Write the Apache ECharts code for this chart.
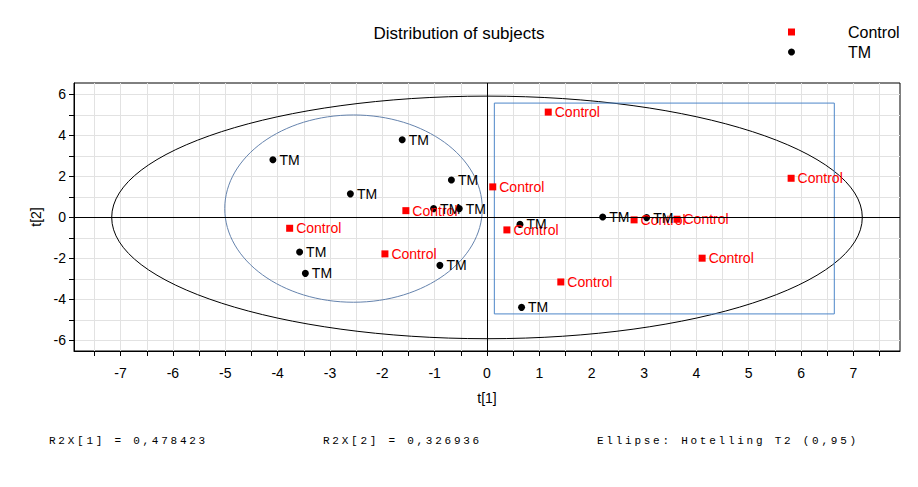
<!DOCTYPE html>
<html lang="en">
<head>
<meta charset="UTF-8">
<title>Distribution of subjects</title>
<script src="https://cdn.jsdelivr.net/npm/echarts@6/dist/echarts.min.js"></script>
<style>
  html, body { margin: 0; padding: 0; background: #fff; }
  #main { width: 918px; height: 487px; }
  /* the footer lines are typewriter style, widely spaced */
  #main text[style*="Mono"] { letter-spacing: 2.75px; }
</style>
</head>
<body>
<div id="main"></div>
<script type="text/javascript">
// scores t[1], t[2]
var controlX = [1.17, 0.11, -1.55, 0.38, -3.77, -1.95, 1.41, 5.81, 2.81, 3.63, 4.11];
var controlY = [5.14, 1.49, 0.33, -0.61, -0.53, -1.78, -3.15, 1.91, -0.12, -0.09, -1.99];
var tmX = [-4.09, -1.62, -2.61, -0.68, -1.02, -0.53, 0.63, 2.21, 3.05, -3.58, -3.47, -0.90, 0.66];
var tmY = [2.81, 3.79, 1.15, 1.83, 0.43, 0.43, -0.34, 0.02, -0.01, -1.69, -2.73, -2.34, -4.39];

// [cx, cy, rx, ry]
var hotelling = [0, 0, 7.17, 5.92];
var groupEllipse = [-2.55, 0.43, 2.46, 4.57];
// [x0, y0, x1, y1]
var groupBox = [0.14, -4.71, 6.635, 5.58];

var xMin = -7.89, xMax = 7.89;
var yMin = -6.52, yMax = 6.56;
var xTicks = [-7.5, -7, -6.5, -6, -5.5, -5, -4.5, -4, -3.5, -3, -2.5, -2, -1.5, -1, -0.5, 0,
              0.5, 1, 1.5, 2, 2.5, 3, 3.5, 4, 4.5, 5, 5.5, 6, 6.5, 7, 7.5];
var xLabels = [-7, -6, -5, -4, -3, -2, -1, 0, 1, 2, 3, 4, 5, 6, 7];
var yTicks = [-6, -5, -4, -3, -2, -1, 0, 1, 2, 3, 4, 5, 6];
var yLabels = [-6, -4, -2, 0, 2, 4, 6];

var footer = ['R2X[1] = 0,478423', 'R2X[2] = 0,326936', 'Ellipse: Hotelling T2 (0,95)'];

var font = 'Liberation Sans';
var chart = echarts.init(document.getElementById('main'), null, { renderer: 'svg' });

function ellipseItem(color) {
  return function (params, api) {
    var c = api.coord([api.value(0), api.value(1)]);
    var s = api.size([api.value(2), api.value(3)]);
    return {
      type: 'ellipse',
      shape: { cx: c[0], cy: c[1], rx: s[0], ry: s[1] },
      style: { fill: 'none', stroke: color, lineWidth: 1 }
    };
  };
}

var option = {
  animation: false,
  title: {
    text: 'Distribution of subjects',
    left: 'center',
    top: 20,
    textStyle: { fontFamily: font, fontSize: 17, fontWeight: 'normal', color: '#000' }
  },
  legend: {
    orient: 'vertical',
    left: 783,
    top: 19,
    itemWidth: 7,
    itemHeight: 7,
    itemGap: 4,
    data: [{ name: 'Control', icon: 'rect' }, { name: 'TM', icon: 'circle' }],
    textStyle: { fontFamily: font, fontSize: 16, color: '#000', padding: [0, 0, 0, 48] }
  },
  grid: {
    left: 74, top: 83, right: 18, bottom: 136,
    show: true, borderColor: '#000', borderWidth: 1
  },
  xAxis: {
    type: 'value',
    min: xMin,
    max: xMax,
    name: 't[1]',
    nameLocation: 'middle',
    nameGap: 40,
    nameTextStyle: { fontFamily: font, fontSize: 14, color: '#000' },
    axisLine: { onZero: false, lineStyle: { color: '#000' } },
    axisTick: { customValues: xTicks, length: 5, lineStyle: { color: '#000' } },
    axisLabel: { customValues: xLabels, margin: 15, color: '#000', fontSize: 14, fontFamily: font },
    splitLine: { show: true, lineStyle: { color: '#e2e2e2' } }
  },
  yAxis: {
    type: 'value',
    min: yMin,
    max: yMax,
    name: 't[2]',
    nameLocation: 'middle',
    nameGap: 31,
    nameTextStyle: { fontFamily: font, fontSize: 14, color: '#000' },
    axisLine: { onZero: false, lineStyle: { color: '#000' } },
    axisTick: { customValues: yTicks, length: 5, lineStyle: { color: '#000' } },
    axisLabel: { customValues: yLabels, margin: 8, color: '#000', fontSize: 14, fontFamily: font },
    splitLine: { show: true, lineStyle: { color: '#e2e2e2' } }
  },
  graphic: [
    { type: 'text', left: 49, top: 435, style: { text: footer[0], font: '11px "Liberation Mono"', fill: '#000' } },
    { type: 'text', left: 323, top: 435, style: { text: footer[1], font: '11px "Liberation Mono"', fill: '#000' } },
    { type: 'text', left: 597, top: 435, style: { text: footer[2], font: '11px "Liberation Mono"', fill: '#000' } }
  ],
  series: [
    {
      name: 'hotelling',
      type: 'custom',
      silent: true,
      z: 1,
      renderItem: ellipseItem('#000'),
      data: [hotelling],
      markLine: {
        silent: true,
        symbol: ['none', 'none'],
        label: { show: false },
        lineStyle: { color: '#000', width: 1, type: 'solid' },
        data: [{ xAxis: 0 }, { yAxis: 0 }]
      }
    },
    {
      name: 'group',
      type: 'custom',
      silent: true,
      z: 1,
      renderItem: ellipseItem('#6583ad'),
      data: [groupEllipse]
    },
    {
      name: 'box',
      type: 'custom',
      silent: true,
      z: 1,
      renderItem: function (params, api) {
        var a = api.coord([api.value(0), api.value(1)]);
        var b = api.coord([api.value(2), api.value(3)]);
        return {
          type: 'rect',
          shape: { x: a[0], y: b[1], width: b[0] - a[0], height: a[1] - b[1] },
          style: { fill: 'none', stroke: '#4d86c8', lineWidth: 1 }
        };
      },
      data: [groupBox]
    },
    {
      name: 'Control',
      type: 'scatter',
      symbol: 'rect',
      symbolSize: 7,
      itemStyle: { color: '#ff0000', opacity: 1 },
      label: { show: true, position: 'right', distance: 3, formatter: 'Control',
               color: '#ff0000', fontSize: 14, fontFamily: font },
      data: controlX.map(function (x, i) { return [x, controlY[i]]; })
    },
    {
      name: 'TM',
      type: 'scatter',
      symbol: 'circle',
      symbolSize: 7,
      itemStyle: { color: '#000', opacity: 1 },
      label: { show: true, position: 'right', distance: 3, formatter: 'TM',
               color: '#000', fontSize: 14, fontFamily: font },
      data: tmX.map(function (x, i) { return [x, tmY[i]]; })
    }
  ]
};
chart.setOption(option);
</script>
</body>
</html>
